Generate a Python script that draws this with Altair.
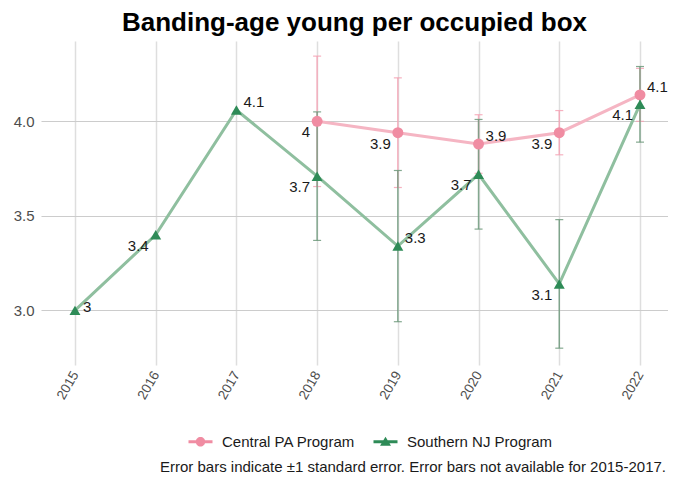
import altair as alt
import pandas as pd

years = [2015, 2016, 2017, 2018, 2019, 2020, 2021, 2022]
programs = ["Central PA Program", "Southern NJ Program"]
pa_mean = [None, None, None, 4.00, 3.94, 3.88, 3.94, 4.14]
pa_se = [None, None, None, 0.345, 0.29, 0.155, 0.117, 0.14]
pa_side = [None, None, None, "ll", "ll", "ur", "ll", "ur"]
nj_mean = [3.00, 3.40, 4.06, 3.71, 3.34, 3.72, 3.14, 4.09]
nj_se = [None, None, None, 0.34, 0.40, 0.29, 0.34, 0.20]
nj_side = ["r", "ll", "ur", "ll", "ur", "ll", "ll", "ll"]
title_text = "Banding-age young per occupied box"
caption = "Error bars indicate \u00b11 standard error. Error bars not available for 2015-2017."

rows = []
for prog, means, ses, sides in [(programs[0], pa_mean, pa_se, pa_side),
                                (programs[1], nj_mean, nj_se, nj_side)]:
    for y, m, s, sd in zip(years, means, ses, sides):
        if m is None:
            continue
        rows.append({
            "year": y, "program": prog, "value": m,
            "lo": (m - s) if s is not None else None,
            "hi": (m + s) if s is not None else None,
            "side": sd,
        })
df = pd.DataFrame(rows)

FONT = "Liberation Sans"
W, H = 627, 324
xscale = alt.Scale(domain=[2014.579, 2022.347], nice=False, zero=False)
yscale = alt.Scale(domain=[2.711, 4.425], nice=False, zero=False)

xaxis = alt.Axis(
    values=years, format="d", title=None, labelAngle=300, labelFontSize=13.5,
    labelColor="#4D4D4D", labelFont=FONT, ticks=False, domain=False, labelPadding=7,
    grid=True, gridColor="#DEDEDE", gridWidth=1.5, labelAlign="right", labelBaseline="middle")
yaxis = alt.Axis(
    values=[3.0, 3.5, 4.0], format=".1f", title=None, labelFontSize=15,
    labelColor="#4D4D4D", labelFont=FONT, ticks=False, domain=False, labelPadding=7,
    grid=True, gridColor="#CCCCCC", gridWidth=1.2)


def X():
    return alt.X("year:Q", scale=xscale, axis=xaxis)


def Y(field="value"):
    return alt.Y(f"{field}:Q", scale=yscale, axis=yaxis)


base = alt.Chart(df)

line_col = {programs[0]: "#F5B5C3", programs[1]: "#8FBF9F"}
err_col = {programs[0]: "#F4A3B5", programs[1]: "#6E9A7C"}
pt_col = {programs[0]: "#F08CA2", programs[1]: "#2E8B57"}
pt_shape = {programs[0]: "circle", programs[1]: "triangle-up"}

layers = []
for prog in programs:
    eb = base.transform_filter(alt.datum.program == prog).transform_filter("isValid(datum.lo)")
    layers.append(eb.mark_rule(color=err_col[prog], strokeWidth=1.5, opacity=0.85).encode(
        x=X(), y=Y("lo"), y2="hi:Q"))
    for f in ["lo", "hi"]:
        layers.append(eb.mark_tick(color=err_col[prog], size=8, thickness=1.2,
                                   orient="horizontal", opacity=0.85).encode(x=X(), y=Y(f)))
for prog in programs:
    sub = base.transform_filter(alt.datum.program == prog)
    layers.append(sub.mark_line(color=line_col[prog], strokeWidth=3).encode(x=X(), y=Y()))
for prog in programs:
    sub = base.transform_filter(alt.datum.program == prog)
    layers.append(sub.mark_point(filled=True, size=120, opacity=1, color=pt_col[prog],
                                 shape=pt_shape[prog]).encode(x=X(), y=Y()))

# legend-only layer (no marks drawn)
circ_line = ("M-2.4,-0.3 L2.4,-0.3 L2.4,0.3 L-2.4,0.3 Z "
             "M0.95,0 A0.95,0.95 0 1 1 -0.95,0 A0.95,0.95 0 1 1 0.95,0 Z")
tri_line = ("M-2.4,-0.3 L2.4,-0.3 L2.4,0.3 L-2.4,0.3 Z "
            "M0,-1.0 L1.1,0.8 L-1.1,0.8 Z")
leg = base.transform_filter("false").mark_point(filled=True, opacity=1).encode(
    x=X(), y=Y(),
    color=alt.Color("program:N", scale=alt.Scale(domain=programs, range=[pt_col[p] for p in programs]),
                    legend=alt.Legend(title=None, orient="none", legendX=152, legendY=393,
                                      direction="horizontal", labelFontSize=15, labelFont=FONT,
                                      labelColor="#1A1A1A", symbolSize=100, columnPadding=17,
                                      labelOffset=14, symbolStrokeWidth=0)),
    shape=alt.Shape("program:N", scale=alt.Scale(domain=programs, range=[circ_line, tri_line])),
)
layers.append(leg)

txt_common = dict(fontSize=15, font=FONT, color="#1A1A1A", baseline="middle")
label_specs = [("ur", "left", 7, -8), ("ll", "right", -7, 11), ("r", "left", 8, -3)]
for side, align, dx, dy in label_specs:
    layers.append(base.transform_filter(alt.datum.side == side).mark_text(
        align=align, dx=dx, dy=dy, **txt_common).encode(
        x=X(), y=Y(), text=alt.Text("value:Q", format=".2~g")))

cap = alt.Chart(pd.DataFrame({"t": [caption]})).mark_text(
    align="right", baseline="middle", fontSize=15, font=FONT, color="#1A1A1A").encode(
    x=alt.value(W - 2), y=alt.value(426), text="t:N")
layers.append(cap)

chart = alt.layer(*layers).properties(
    width=W, height=H,
    title=alt.TitleParams(title_text, fontSize=26, font=FONT, fontWeight="bold",
                          color="#000000", anchor="middle", offset=5),
    autosize=alt.AutoSizeParams(type="none"),
    padding={"left": 33, "top": 33, "right": 0, "bottom": 110},
).configure_view(stroke=None)

chart.save("out.html", embed_options={"renderer": "svg", "actions": False})
